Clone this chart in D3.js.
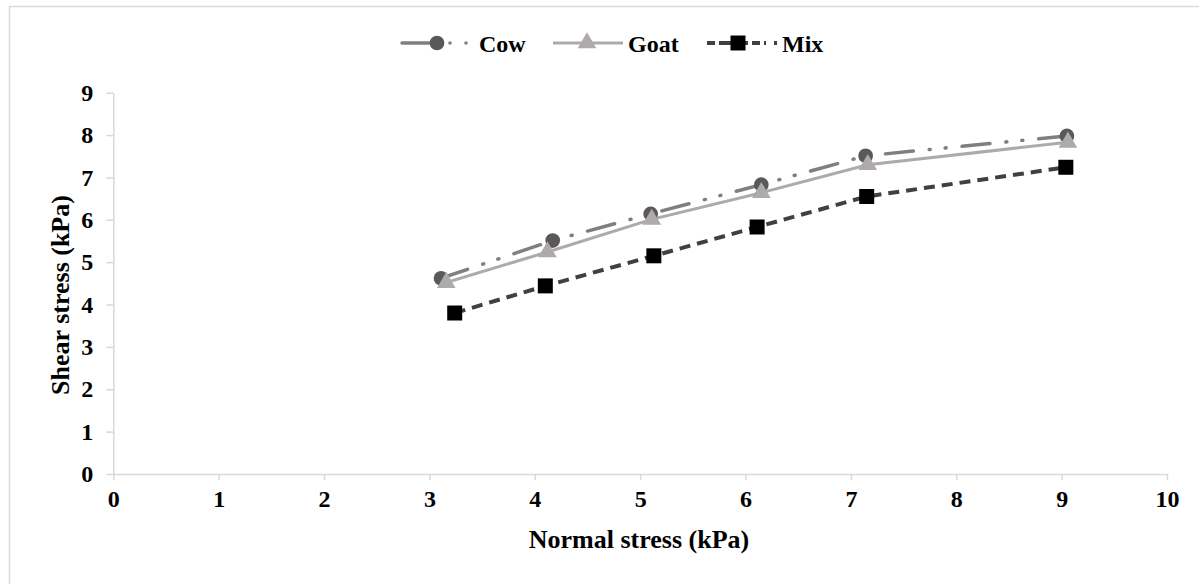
<!DOCTYPE html>
<html>
<head>
<meta charset="utf-8">
<script src="https://cdn.jsdelivr.net/npm/d3@7"></script>
<style>
  body { margin: 0; background: #fff; }
</style>
</head>
<body>
<div id="chart"></div>
<script>
// data
var seriesNames = ["Cow", "Goat", "Mix"];
var cowX  = [3.11, 4.17, 5.10, 6.15, 7.14, 9.05];
var cowY  = [4.62, 5.51, 6.14, 6.83, 7.51, 7.98];
var goatX = [3.16, 4.12, 5.11, 6.15, 7.16, 9.06];
var goatY = [4.52, 5.24, 6.01, 6.64, 7.30, 7.83];
var mixX  = [3.24, 4.10, 5.13, 6.11, 7.15, 9.04];
var mixY  = [3.80, 4.44, 5.15, 5.83, 6.55, 7.24];
var xTicks = [0, 1, 2, 3, 4, 5, 6, 7, 8, 9, 10];
var yTicks = [0, 1, 2, 3, 4, 5, 6, 7, 8, 9];

var FONT = "Liberation Serif";

var svgWidth = 1199;
var svgHeight = 584;

var margin = { top: 92.7, right: 32, bottom: 110, left: 113.3 };
var width = 1167 - margin.left;
var height = 474 - margin.top;

var svg = d3.select("#chart")
  .append("svg")
  .attr("width", svgWidth)
  .attr("height", svgHeight);

// outer chart border (cut off at the right and bottom)
svg.append("rect")
  .attr("x", 9.5).attr("y", 6.5)
  .attr("width", 1220).attr("height", 620)
  .attr("fill", "none")
  .attr("stroke", "#d9d9d9")
  .attr("stroke-width", 1.5);

var chartGroup = svg.append("g")
  .attr("transform", `translate(${margin.left}, ${margin.top})`);

var xScale = d3.scaleLinear().domain([0, 10]).range([0, width]);
var yScale = d3.scaleLinear().domain([0, 9]).range([height, 0]);

var bottomAxis = d3.axisBottom(xScale).tickValues(xTicks).tickSize(6).tickPadding(10).tickSizeOuter(0);
var leftAxis = d3.axisLeft(yScale).tickValues(yTicks).tickSize(7).tickPadding(13).tickSizeOuter(0);

var xg = chartGroup.append("g")
  .attr("transform", `translate(0, ${height})`)
  .call(bottomAxis);
var yg = chartGroup.append("g").call(leftAxis);

[xg, yg].forEach(function(g) {
  g.select(".domain").attr("stroke", "#d9d9d9").attr("stroke-width", 1.5);
  g.selectAll(".tick line").attr("stroke", "#d9d9d9").attr("stroke-width", 1.5);
  g.selectAll(".tick text")
    .style("font-family", FONT)
    .style("font-weight", "bold")
    .style("font-size", "24px")
    .attr("fill", "#000");
});

var styles = {
  Cow:  { line: "#7f7f7f", marker: "#595959", dash: "28,16,1,15,1,16", width: 3.5, cap: "round", shape: d3.symbolCircle, size: 170 },
  Goat: { line: "#aeaaaa", marker: "#aeaaaa", dash: null, width: 3, cap: "butt", shape: d3.symbolTriangle, size: 150 },
  Mix:  { line: "#404040", marker: "#000000", dash: "11,7", width: 4, cap: "butt", shape: d3.symbolSquare, size: 225 }
};

var series = [
  { name: "Cow", values: cowX.map((x, i) => ({ x: x, y: cowY[i] })) },
  { name: "Goat", values: goatX.map((x, i) => ({ x: x, y: goatY[i] })) },
  { name: "Mix", values: mixX.map((x, i) => ({ x: x, y: mixY[i] })) }
];

var line = d3.line().x(d => xScale(d.x)).y(d => yScale(d.y));

series.forEach(function(s) {
  var st = styles[s.name];
  chartGroup.append("path")
    .datum(s.values)
    .attr("d", line)
    .attr("fill", "none")
    .attr("stroke", st.line)
    .attr("stroke-width", st.width)
    .attr("stroke-linecap", st.cap)
    .attr("stroke-dasharray", st.dash);
});

series.forEach(function(s) {
  var st = styles[s.name];
  chartGroup.selectAll(".m" + s.name)
    .data(s.values)
    .enter()
    .append("path")
    .attr("class", "m" + s.name)
    .attr("transform", d => `translate(${xScale(d.x)}, ${yScale(d.y)})`)
    .attr("d", d3.symbol().type(st.shape).size(st.size))
    .attr("fill", st.marker);
});

// legend
var legendX = [402, 553, 707];
var legendY = 43;
series.forEach(function(s, i) {
  var st = styles[s.name];
  var g = svg.append("g").attr("transform", `translate(${legendX[i]}, ${legendY})`);
  if (s.name === "Cow") {
    g.append("line").attr("x1", 0).attr("x2", 30).attr("y1", 0).attr("y2", 0)
      .attr("stroke", st.line).attr("stroke-width", st.width).attr("stroke-linecap", "round");
    g.selectAll("circle.dot").data([48, 64]).enter().append("circle")
      .attr("cx", d => d).attr("cy", 0).attr("r", 1.8).attr("fill", st.line);
  } else {
    g.append("line").attr("x1", 0).attr("x2", 70).attr("y1", 0).attr("y2", 0)
      .attr("stroke", st.line).attr("stroke-width", st.width)
      .attr("stroke-dasharray", s.name === "Mix" ? "8,4,17,4,8,4,8,4,2" : null);
  }
  g.append("path")
    .attr("transform", `translate(${s.name === "Cow" ? 35 : s.name === "Goat" ? 34 : 31}, 0)`)
    .attr("d", d3.symbol().type(st.shape).size(st.size))
    .attr("fill", st.marker);
  g.append("text")
    .attr("x", s.name === "Cow" ? 77 : 75)
    .attr("y", 8.5)
    .style("font-family", FONT)
    .style("font-weight", "bold")
    .style("font-size", "24px")
    .text(s.name);
});

// axis titles
chartGroup.append("text")
  .attr("x", 639 - margin.left)
  .attr("y", 548 - margin.top)
  .attr("text-anchor", "middle")
  .style("font-family", FONT)
  .style("font-weight", "bold")
  .style("font-size", "26px")
  .text("Normal stress (kPa)");

chartGroup.append("text")
  .attr("transform", "rotate(-90)")
  .attr("x", -(295 - margin.top))
  .attr("y", 69 - margin.left)
  .attr("text-anchor", "middle")
  .style("font-family", FONT)
  .style("font-weight", "bold")
  .style("font-size", "26px")
  .text("Shear stress (kPa)");
</script>
</body>
</html>
